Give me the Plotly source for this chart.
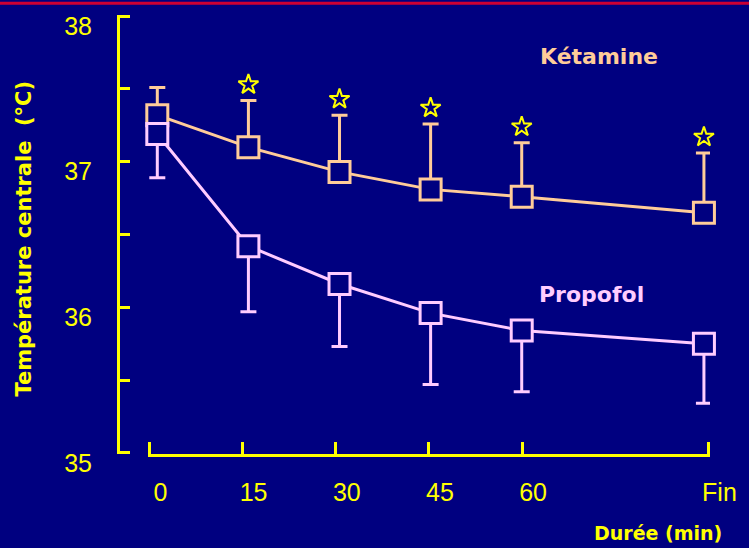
import plotly.graph_objects as go

# Time points (minutes); the last one is the end of the procedure ("Fin")
minutes = [0, 15, 30, 45, 60, 90]
tick_labels = ["0", "15", "30", "45", "60", "Fin"]

# Core temperature, mean and SD (°C)
ket_mean = [37.32, 37.10, 36.93, 36.81, 36.76, 36.65]
ket_sd = [0.19, 0.32, 0.39, 0.45, 0.37, 0.41]
pro_mean = [37.19, 36.42, 36.16, 35.96, 35.84, 35.75]
pro_sd = [0.30, 0.45, 0.43, 0.49, 0.42, 0.41]

# Significant difference between groups at each time point
signif = [False, True, True, True, True, True]

y_ticks = [35, 35.5, 36, 36.5, 37, 37.5, 38]
y_tick_labels = ["35", "", "36", "", "37", "", "38"]

BG = "#000080"
YELLOW = "#FFFF00"
KET = "#FFCC99"
PRO = "#FFCCFF"
NUM_FONT = "Liberation Sans, Arial, sans-serif"
TXT_FONT = "DejaVu Sans, Verdana, sans-serif"

fig = go.Figure()

# Empty trace so the tick axis (x) gets its own subplot to overlay
fig.add_trace(go.Scatter(x=[], y=[], xaxis="x", yaxis="y", hoverinfo="skip"))


def add_group(mean, sd, color, upper):
    zeros = [0] * len(mean)
    fig.add_trace(go.Scatter(
        x=minutes, y=mean, xaxis="x2", yaxis="y",
        mode="lines+markers", cliponaxis=False,
        line=dict(color=color, width=3),
        marker=dict(symbol="square", size=21, color=BG,
                    line=dict(color=color, width=3)),
        error_y=dict(type="data", symmetric=False,
                     array=sd if upper else zeros,
                     arrayminus=zeros if upper else sd,
                     color=color, thickness=3, width=8),
        hoverinfo="skip",
    ))


add_group(ket_mean, ket_sd, KET, upper=True)
add_group(pro_mean, pro_sd, PRO, upper=False)

# Significance stars above the Kétamine error bars
star_x = [m for m, s in zip(minutes, signif) if s]
star_y = [mu + sd + 0.11 for mu, sd, s in zip(ket_mean, ket_sd, signif) if s]
fig.add_trace(go.Scatter(
    x=star_x, y=star_y, xaxis="x2", yaxis="y", mode="markers",
    cliponaxis=False,
    marker=dict(symbol="star-open", size=15, color=YELLOW,
                line=dict(color=YELLOW, width=2)),
    hoverinfo="skip",
))

fig.update_layout(
    width=749, height=548,
    margin=dict(l=118, r=37, t=13, b=94),
    paper_bgcolor=BG, plot_bgcolor=BG,
    showlegend=False,
    xaxis=dict(
        domain=[0.0505, 1], range=[-0.25, 90.25], anchor="y",
        tickmode="array", tickvals=minutes, ticktext=tick_labels,
        ticks="inside", ticklen=12, tickwidth=3, tickcolor=YELLOW,
        showline=True, linecolor=YELLOW, linewidth=3,
        showgrid=False, zeroline=False,
        tickfont=dict(family=NUM_FONT, size=25, color=YELLOW),
        ticklabelshift=11, ticklabelstandoff=14,
    ),
    xaxis2=dict(overlaying="x", range=[-1.55, 91.0], visible=False,
                anchor="y"),
    yaxis=dict(
        anchor="free", position=0, range=[34.992, 38.008],
        tickmode="array", tickvals=y_ticks, ticktext=y_tick_labels,
        ticks="inside", ticklen=10, tickwidth=3, tickcolor=YELLOW,
        showline=True, linecolor=YELLOW, linewidth=3,
        showgrid=False, zeroline=False,
        tickfont=dict(family=NUM_FONT, size=25, color=YELLOW),
        ticklabelshift=10, ticklabelstandoff=20,
    ),
)

annotations = [
    dict(text="Kétamine", x=72.8, y=37.72, xref="x2", yref="y",
         showarrow=False, font=dict(family=TXT_FONT, size=22, color=KET,
                                    weight="bold")),
    dict(text="Propofol", x=71.5, y=36.09, xref="x2", yref="y",
         showarrow=False, font=dict(family=TXT_FONT, size=22, color=PRO,
                                    weight="bold")),
    dict(text="Température centrale  (°C)", x=-0.1585, y=0.491,
         xref="paper", yref="paper", textangle=-90, showarrow=False,
         xanchor="center", yanchor="middle",
         font=dict(family=TXT_FONT, size=21, color=YELLOW, weight="bold")),
    dict(text="Durée (min)", x=0.912, y=-0.18, xref="paper", yref="paper",
         showarrow=False, xanchor="center", yanchor="middle",
         font=dict(family=TXT_FONT, size=19, color=YELLOW, weight="bold")),
]
fig.update_layout(annotations=annotations)

# Red rule along the top of the slide
fig.add_shape(type="line", xref="paper", yref="paper",
              x0=-0.2, x1=1.07, y0=1.027, y1=1.027,
              line=dict(color="#CC0033", width=3))

fig.write_html("out.html")
